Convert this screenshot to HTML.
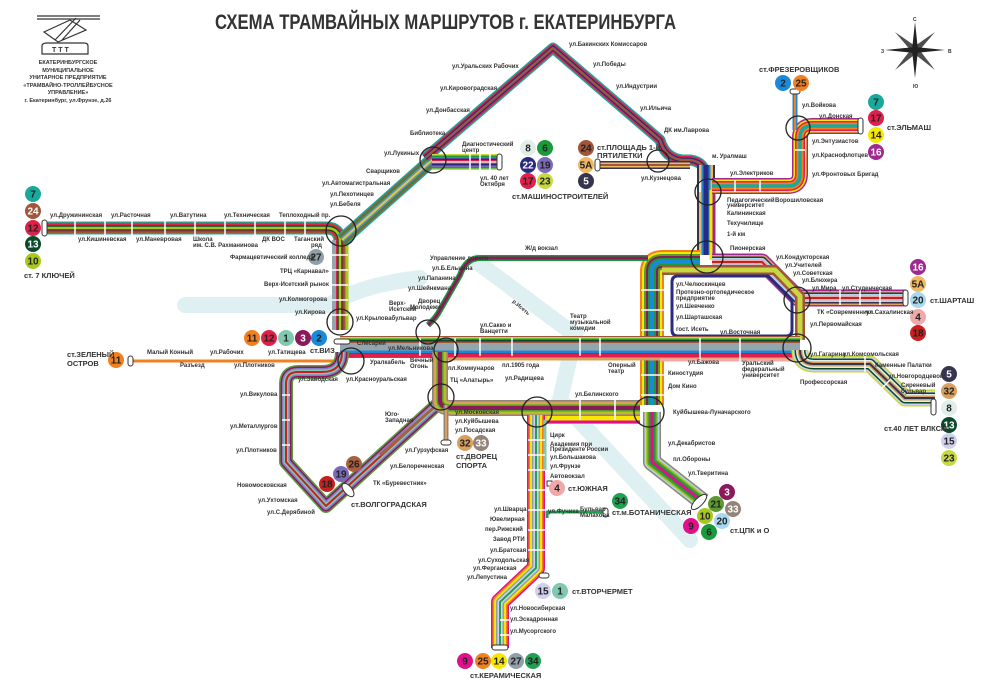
<!DOCTYPE html>
<html><head><meta charset="utf-8">
<style>
html,body{margin:0;padding:0;background:#fff;}
svg{display:block;}
text{font-family:"Liberation Sans",sans-serif;font-weight:bold;fill:#333;}
.s{font-size:6px;}
.t{font-size:7.5px;fill:#222;}
.n{font-size:10px;text-anchor:middle;fill:#222;}
.w{fill:#fff;}
</style></head><body>
<svg width="1000" height="685" viewBox="0 0 1000 685" xmlns="http://www.w3.org/2000/svg">
<defs>
<path id="pW" d="M45,228 H326 Q340,228 340,242 V330"/>
<path id="pNW" d="M342,240 L432,160"/>
<path id="pTop" d="M425,158 L553,48 L660,140 Q665,158 682,160 H690 Q706,162 706,178 V250"/>
<path id="pMash" d="M432,162 H500"/>
<path id="p5A" d="M598,165 H690"/>
<path id="pElm" d="M712,186 H788 Q800,186 800,174 V138 Q800,126 812,126 H862"/>
<path id="pFrez" d="M795,92 V130"/>
<path id="pShar" d="M712,262 H762 L798,298 H906"/>
<path id="pLV" d="M700,262 H662 Q652,262 652,272 V405"/>
<path id="pRect" d="M676,276 H768 L792,300 V330 Q792,336 786,336 H678 Q672,336 672,330 V282 Q672,276 678,276 Z"/>
<path id="pCent" d="M340,347 H800"/>
<path id="pE" d="M800,350 Q800,364 814,364 H870 L905,398 H935"/>
<path id="pSW" d="M342,352 Q342,372 322,372 H298 Q286,372 286,384 V462 L326,506 L440,402"/>
<path id="pOr" d="M132,361 H345"/>
<path id="pAl" d="M440,352 V400 Q440,408 452,408 H640"/>
<path id="pDS" d="M446,405 V442"/>
<path id="pSo" d="M536,415 V568 L500,602 V648"/>
<path id="pSE" d="M652,412 V462 L703,502"/>
<path id="pBot" d="M547,518 V512 H605"/>
<path id="pZh" d="M428,325 Q436,318 440,310 L460,275 Q466,258 480,258 H648"/>
</defs>

<!-- river -->
<g fill="none" stroke="#dff0f3" stroke-linecap="round">
<path d="M185,305 H330 Q360,285 420,278" stroke-width="16"/>
<path d="M477,262 L575,335 L560,400 L690,540" stroke-width="16"/>
</g>

<g fill="none" stroke-linejoin="round">
<use href="#pW" stroke="#1aa89a" stroke-width="13"/>
<use href="#pW" stroke="#a0563a" stroke-width="10.5"/>
<use href="#pW" stroke="#e0204a" stroke-width="8"/>
<use href="#pW" stroke="#0a4a2a" stroke-width="5"/>
<use href="#pW" stroke="#a8c81e" stroke-width="2.5"/>
<path d="M334,240 V330" stroke="#95a5ad" stroke-width="4"/>
<path d="M347,240 V330" stroke="#a8c81e" stroke-width="3"/>
<use href="#pNW" stroke="#1aa89a" stroke-width="14"/>
<use href="#pNW" stroke="#a0563a" stroke-width="11"/>
<use href="#pNW" stroke="#1a9a3a" stroke-width="8"/>
<use href="#pNW" stroke="#8a7ac8" stroke-width="5"/>
<use href="#pNW" stroke="#c8d840" stroke-width="2"/>
<use href="#pTop" stroke="#1aa89a" stroke-width="11"/>
<use href="#pTop" stroke="#e0204a" stroke-width="8"/>
<use href="#pTop" stroke="#2a2a80" stroke-width="5"/>
<use href="#pTop" stroke="#a0563a" stroke-width="2.5"/>
<use href="#pMash" stroke="#c8d840" stroke-width="16"/>
<use href="#pMash" stroke="#1a9a3a" stroke-width="13"/>
<use href="#pMash" stroke="#7a6ab8" stroke-width="10"/>
<use href="#pMash" stroke="#2a2a80" stroke-width="7"/>
<use href="#pMash" stroke="#e0204a" stroke-width="4"/>
<use href="#pMash" stroke="#dfeee8" stroke-width="1.5"/>
<use href="#p5A" stroke="#353550" stroke-width="8"/>
<use href="#p5A" stroke="#f0b860" stroke-width="5"/>
<use href="#p5A" stroke="#a0563a" stroke-width="2"/>
<path d="M706,165 V255" stroke="#353550" stroke-width="18"/>
<path d="M706,165 V255" stroke="#f0b860" stroke-width="14"/>
<path d="M706,165 V255" stroke="#1a8ad8" stroke-width="9"/>
<path d="M706,165 V255" stroke="#2a2a80" stroke-width="5"/>
<path d="M714,190 V260" stroke="#a02890" stroke-width="3"/>
<path d="M711,190 V260" stroke="#f8e800" stroke-width="3"/>
<use href="#pElm" stroke="#a02890" stroke-width="16"/>
<use href="#pElm" stroke="#f8e800" stroke-width="13"/>
<use href="#pElm" stroke="#e0204a" stroke-width="10"/>
<use href="#pElm" stroke="#f08020" stroke-width="7"/>
<use href="#pElm" stroke="#1aa89a" stroke-width="3.5"/>
<use href="#pFrez" stroke="#1a8ad8" stroke-width="5"/>
<use href="#pFrez" stroke="#f08020" stroke-width="2"/>
<use href="#pShar" stroke="#a02890" stroke-width="17"/>
<use href="#pShar" stroke="#d8a060" stroke-width="14"/>
<use href="#pShar" stroke="#353550" stroke-width="11"/>
<use href="#pShar" stroke="#a8d8f0" stroke-width="8"/>
<use href="#pShar" stroke="#f0a8a8" stroke-width="5"/>
<use href="#pShar" stroke="#c82020" stroke-width="2"/>
<use href="#pLV" stroke="#f08020" stroke-width="24"/>
<use href="#pLV" stroke="#f8e800" stroke-width="20"/>
<use href="#pLV" stroke="#5a9a30" stroke-width="16"/>
<use href="#pLV" stroke="#8a1a5a" stroke-width="12"/>
<use href="#pLV" stroke="#1a9a3a" stroke-width="8"/>
<use href="#pLV" stroke="#1a8ad8" stroke-width="4"/>
<path d="M662,270 H775 L800,296 V340" fill="none" stroke="#a0563a" stroke-width="10"/>
<path d="M662,270 H775 L800,296 V340" fill="none" stroke="#c8d840" stroke-width="5"/>
<use href="#pRect" stroke="#2a2a80" stroke-width="3"/>
<use href="#pCent" stroke="#a0563a" stroke-width="22"/>
<use href="#pCent" stroke="#c8d840" stroke-width="20"/>
<use href="#pCent" stroke="#1a9a3a" stroke-width="17"/>
<use href="#pCent" stroke="#0a4a2a" stroke-width="14"/>
<use href="#pCent" stroke="#a0563a" stroke-width="11"/>
<use href="#pCent" stroke="#95a5ad" stroke-width="8"/>
<path d="M340,352 H800" stroke="#1a8ad8" stroke-width="3"/>
<path d="M340,355.5 H800" stroke="#e0204a" stroke-width="3"/>
<path d="M445,359 H800" stroke="#d8a060" stroke-width="3"/>
<path d="M660,360 H800" stroke="#f0a8a8" stroke-width="3"/>
<use href="#pE" stroke="#c8d840" stroke-width="17"/>
<use href="#pE" stroke="#d0d0ee" stroke-width="14"/>
<use href="#pE" stroke="#0a4a2a" stroke-width="11"/>
<use href="#pE" stroke="#dfeee8" stroke-width="8"/>
<use href="#pE" stroke="#d8a060" stroke-width="5"/>
<use href="#pE" stroke="#353550" stroke-width="2"/>
<use href="#pOr" stroke="#f08020" stroke-width="3"/>
<use href="#pSW" stroke="#5aa040" stroke-width="14"/>
<use href="#pSW" stroke="#8a1a5a" stroke-width="11"/>
<use href="#pSW" stroke="#8a7ac8" stroke-width="8"/>
<use href="#pSW" stroke="#80c8b0" stroke-width="5"/>
<use href="#pSW" stroke="#c82020" stroke-width="2"/>
<path d="M380,455 L440,402" stroke="#a86040" stroke-width="3"/>
<use href="#pAl" stroke="#948478" stroke-width="16"/>
<use href="#pAl" stroke="#d8a060" stroke-width="13"/>
<use href="#pAl" stroke="#a8c81e" stroke-width="10"/>
<use href="#pAl" stroke="#5a9a30" stroke-width="7"/>
<use href="#pAl" stroke="#8a1a5a" stroke-width="4"/>
<path d="M540,420 H640" stroke="#f8e800" stroke-width="8"/>
<path d="M540,422 H640" stroke="#e0108a" stroke-width="3"/>
<use href="#pDS" stroke="#948478" stroke-width="5"/>
<use href="#pDS" stroke="#d8a060" stroke-width="2"/>
<use href="#pSo" stroke="#e0108a" stroke-width="18"/>
<use href="#pSo" stroke="#f08020" stroke-width="15"/>
<use href="#pSo" stroke="#f8e800" stroke-width="12"/>
<use href="#pSo" stroke="#90a0a8" stroke-width="8"/>
<use href="#pSo" stroke="#d0d0ee" stroke-width="5"/>
<use href="#pSo" stroke="#20a050" stroke-width="2"/>
<path d="M545,420 V470" stroke="#80c8b0" stroke-width="3"/>
<use href="#pBot" stroke="#20a050" stroke-width="3"/>
<use href="#pSE" stroke="#948478" stroke-width="18"/>
<use href="#pSE" stroke="#a8d8f0" stroke-width="15"/>
<use href="#pSE" stroke="#a8c81e" stroke-width="12"/>
<use href="#pSE" stroke="#5a9a30" stroke-width="9"/>
<use href="#pSE" stroke="#1a9a3a" stroke-width="6"/>
<use href="#pSE" stroke="#e0108a" stroke-width="3"/>
<use href="#pZh" stroke="#1a9a3a" stroke-width="6"/>
<use href="#pZh" stroke="#8a1a5a" stroke-width="3"/>
</g>

<g stroke="#fff" stroke-width="1.5">
<path d="M75,220V236M105,220V236M132,220V236M165,220V236M195,220V236M225,220V236M255,220V236M285,220V236M305,220V236"/>
<path d="M332,255H348M332,270H348M332,285H348M332,300H348M332,315H348"/>
<path d="M480,152V172M490,152V172M470,152V172"/>
<path d="M420,338V356M455,338V356M480,338V356M512,338V356M580,338V356M600,338V356M700,338V364M740,338V364"/>
<path d="M282,395H290M282,420H290M282,445H290"/>
<path d="M528,440H545M528,455H545M528,470H545M528,490H545M528,510H545M528,530H545M528,550H545"/>
<path d="M500,620H510M500,635H510"/>
<path d="M700,180V192M735,180V192M760,180V192M795,150H805"/>
<path d="M840,290V305M860,290V305M880,290V305"/>
<path d="M865,356V372M890,380L880,390"/>
<path d="M641,290H664M641,310H664M641,330H664M641,375H664M641,395H664"/>
<path d="M580,400V420M615,400V420"/>
</g>

<g fill="#fff" stroke="#333" stroke-width="1">
<rect x="42" y="220" width="5" height="16" rx="2.5"/>
<rect x="497" y="154" width="5" height="16" rx="2.5"/>
<rect x="595" y="159" width="5" height="12" rx="2.5"/>
<rect x="790" y="89" width="10" height="5" rx="2.5"/>
<rect x="858" y="118" width="5" height="16" rx="2.5"/>
<rect x="903" y="290" width="5" height="16" rx="2.5"/>
<rect x="931" y="399" width="5" height="16" rx="2.5"/>
<rect x="128" y="356" width="5" height="10" rx="2.5"/>
<rect x="334" y="339" width="16" height="5" rx="2.5"/>
<ellipse cx="348" cy="490" rx="4" ry="8" transform="rotate(-40 348 490)"/>
<rect x="441" y="440" width="10" height="5" rx="2.5"/>
<rect x="547" y="481" width="5" height="5"/>
<rect x="603" y="508" width="5" height="9" rx="2.5"/>
<rect x="539" y="573" width="10" height="5" rx="2.5"/>
<rect x="492" y="645" width="16" height="5" rx="2.5"/>
<ellipse cx="699" cy="502" rx="4" ry="10" transform="rotate(45 699 502)"/>
</g>

<g fill="none" stroke="#222" stroke-width="1.3">
<circle cx="433" cy="160" r="13"/><circle cx="658" cy="161" r="11"/>
<circle cx="708" cy="192" r="13"/><circle cx="707" cy="257" r="16"/>
<circle cx="798" cy="128" r="12"/><circle cx="797" cy="300" r="13"/>
<circle cx="797" cy="348" r="14"/><circle cx="341" cy="231" r="15"/>
<circle cx="340" cy="322" r="13"/><circle cx="351" cy="361" r="13"/>
<circle cx="428" cy="332" r="12"/><circle cx="446" cy="350" r="12"/>
<circle cx="441" cy="397" r="13"/><circle cx="537" cy="412" r="15"/>
<circle cx="649" cy="412" r="15"/>
</g>

<g>
<circle cx="33" cy="194" r="8" fill="#1aa89a"/><text class="n" x="33" y="197.5">7</text>
<circle cx="33" cy="211" r="8" fill="#a0563a"/><text class="n w" x="33" y="214.5">24</text>
<circle cx="33" cy="228" r="8" fill="#e0204a"/><text class="n" x="33" y="231.5">12</text>
<circle cx="33" cy="244" r="8" fill="#0a4a2a"/><text class="n w" x="33" y="247.5">13</text>
<circle cx="33" cy="261" r="8" fill="#a8c81e"/><text class="n" x="33" y="264.5">10</text>
<circle cx="316" cy="257" r="8" fill="#90a0a8"/><text class="n" x="316" y="260.5">27</text>
<circle cx="528" cy="148" r="8" fill="#dfeee8"/><text class="n" x="528" y="151.5">8</text>
<circle cx="545" cy="148" r="8" fill="#1a9a3a"/><text class="n" x="545" y="151.5">6</text>
<circle cx="528" cy="165" r="8" fill="#2a2a80"/><text class="n w" x="528" y="168.5">22</text>
<circle cx="545" cy="165" r="8" fill="#7a6ab8"/><text class="n" x="545" y="168.5">19</text>
<circle cx="528" cy="181" r="8" fill="#e0204a"/><text class="n" x="528" y="184.5">17</text>
<circle cx="545" cy="181" r="8" fill="#c8d840"/><text class="n" x="545" y="184.5">23</text>
<circle cx="586" cy="148" r="8" fill="#a0563a"/><text class="n" x="586" y="151.5">24</text>
<circle cx="586" cy="165" r="8" fill="#f0b860"/><text class="n" x="586" y="168.5">5A</text>
<circle cx="586" cy="181" r="8" fill="#353550"/><text class="n w" x="586" y="184.5">5</text>
<circle cx="783" cy="83" r="8" fill="#1a8ad8"/><text class="n" x="783" y="86.5">2</text>
<circle cx="801" cy="83" r="8" fill="#f08020"/><text class="n" x="801" y="86.5">25</text>
<circle cx="876" cy="102" r="8" fill="#1aa89a"/><text class="n" x="876" y="105.5">7</text>
<circle cx="876" cy="118" r="8" fill="#e0204a"/><text class="n" x="876" y="121.5">17</text>
<circle cx="876" cy="135" r="8" fill="#f8e800"/><text class="n" x="876" y="138.5">14</text>
<circle cx="876" cy="152" r="8" fill="#a02890"/><text class="n w" x="876" y="155.5">16</text>
<circle cx="918" cy="267" r="8" fill="#a02890"/><text class="n w" x="918" y="270.5">16</text>
<circle cx="918" cy="284" r="8" fill="#f0b860"/><text class="n" x="918" y="287.5">5A</text>
<circle cx="918" cy="300" r="8" fill="#a8d8f0"/><text class="n" x="918" y="303.5">20</text>
<circle cx="918" cy="317" r="8" fill="#f0a8a8"/><text class="n" x="918" y="320.5">4</text>
<circle cx="918" cy="333" r="8" fill="#c82020"/><text class="n" x="918" y="336.5">18</text>
<circle cx="949" cy="374" r="8" fill="#353550"/><text class="n w" x="949" y="377.5">5</text>
<circle cx="949" cy="391" r="8" fill="#d8a060"/><text class="n" x="949" y="394.5">32</text>
<circle cx="949" cy="408" r="8" fill="#dfeee8"/><text class="n" x="949" y="411.5">8</text>
<circle cx="949" cy="425" r="8" fill="#0a4a2a"/><text class="n w" x="949" y="428.5">13</text>
<circle cx="949" cy="441" r="8" fill="#d0d0ee"/><text class="n" x="949" y="444.5">15</text>
<circle cx="949" cy="458" r="8" fill="#c8d840"/><text class="n" x="949" y="461.5">23</text>
<circle cx="252" cy="338" r="8" fill="#f08020"/><text class="n" x="252" y="341.5">11</text>
<circle cx="269" cy="338" r="8" fill="#e0204a"/><text class="n" x="269" y="341.5">12</text>
<circle cx="286" cy="338" r="8" fill="#80c8b0"/><text class="n" x="286" y="341.5">1</text>
<circle cx="303" cy="338" r="8" fill="#8a1a5a"/><text class="n w" x="303" y="341.5">3</text>
<circle cx="319" cy="338" r="8" fill="#1a8ad8"/><text class="n" x="319" y="341.5">2</text>
<circle cx="116" cy="360" r="8" fill="#f08020"/><text class="n" x="116" y="363.5">11</text>
<circle cx="327" cy="484" r="8" fill="#c82020"/><text class="n" x="327" y="487.5">18</text>
<circle cx="341" cy="474" r="8" fill="#7a6ab8"/><text class="n" x="341" y="477.5">19</text>
<circle cx="354" cy="464" r="8" fill="#a86040"/><text class="n" x="354" y="467.5">26</text>
<circle cx="465" cy="443" r="8" fill="#d8a060"/><text class="n" x="465" y="446.5">32</text>
<circle cx="481" cy="443" r="8" fill="#948478"/><text class="n w" x="481" y="446.5">33</text>
<circle cx="557" cy="488" r="8" fill="#f0a8a8"/><text class="n" x="557" y="491.5">4</text>
<circle cx="620" cy="501" r="8" fill="#20a050"/><text class="n" x="620" y="504.5">34</text>
<circle cx="727" cy="492" r="8" fill="#8a1a5a"/><text class="n w" x="727" y="495.5">3</text>
<circle cx="716" cy="504" r="8" fill="#5a9a30"/><text class="n" x="716" y="507.5">21</text>
<circle cx="733" cy="509" r="8" fill="#948478"/><text class="n w" x="733" y="512.5">33</text>
<circle cx="705" cy="516" r="8" fill="#a8c81e"/><text class="n" x="705" y="519.5">10</text>
<circle cx="722" cy="521" r="8" fill="#a8d8f0"/><text class="n" x="722" y="524.5">20</text>
<circle cx="691" cy="526" r="8" fill="#e0108a"/><text class="n" x="691" y="529.5">9</text>
<circle cx="709" cy="532" r="8" fill="#1a9a3a"/><text class="n" x="709" y="535.5">6</text>
<circle cx="543" cy="591" r="8" fill="#d0d0ee"/><text class="n" x="543" y="594.5">15</text>
<circle cx="560" cy="591" r="8" fill="#80c8b0"/><text class="n" x="560" y="594.5">1</text>
<circle cx="465" cy="661" r="8" fill="#e0108a"/><text class="n" x="465" y="664.5">9</text>
<circle cx="483" cy="661" r="8" fill="#f08020"/><text class="n" x="483" y="664.5">25</text>
<circle cx="499" cy="661" r="8" fill="#f8e800"/><text class="n" x="499" y="664.5">14</text>
<circle cx="516" cy="661" r="8" fill="#90a0a8"/><text class="n" x="516" y="664.5">27</text>
<circle cx="533" cy="661" r="8" fill="#20a050"/><text class="n" x="533" y="664.5">34</text>
</g>

<text x="215" y="29" font-size="21" fill="#222" textLength="461" lengthAdjust="spacingAndGlyphs">СХЕМА ТРАМВАЙНЫХ МАРШРУТОВ г. ЕКАТЕРИНБУРГА</text>

<g fill="none" stroke="#333" stroke-width="1.2">
<path d="M37,16 H100 M37,19 H100"/>
<path d="M44,32 L70,20 L86,30 L58,42 Z M55,40 L76,18 M62,40 L80,20"/>
<path d="M42,54 V46 Q42,43 47,43 H84 Q88,43 88,46 V54 Z"/>
</g>
<text x="52" y="52" font-size="7">Т Т Т</text>
<g font-size="5.5" text-anchor="middle">
<text x="68" y="64">ЕКАТЕРИНБУРГСКОЕ</text>
<text x="68" y="72">МУНИЦИПАЛЬНОЕ</text>
<text x="68" y="79">УНИТАРНОЕ ПРЕДПРИЯТИЕ</text>
<text x="68" y="87">«ТРАМВАЙНО-ТРОЛЛЕЙБУСНОЕ</text>
<text x="68" y="94">УПРАВЛЕНИЕ»</text>
<text x="68" y="102">г. Екатеринбург, ул.Фрунзе, д.26</text>
</g>

<g fill="#222">
<path d="M915,22 L918,50 L915,78 L912,50 Z"/>
<path d="M885,50 L915,47 L945,50 L915,53 Z"/>
<path d="M895,32 L918,48 L935,70 L912,52 Z" opacity="0.8"/>
<path d="M935,32 L918,52 L895,70 L912,48 Z" opacity="0.8"/>
</g>
<text x="913" y="21" font-size="5">С</text><text x="881" y="53" font-size="5">З</text>
<text x="948" y="53" font-size="5">В</text><text x="913" y="88" font-size="5">Ю</text>

<g class="t">
<text x="24" y="278">ст. 7 КЛЮЧЕЙ</text>
<text x="512" y="199">ст.МАШИНОСТРОИТЕЛЕЙ</text>
<text x="597" y="150">ст.ПЛОЩАДЬ 1-й</text>
<text x="597" y="158">ПЯТИЛЕТКИ</text>
<text x="759" y="72">ст.ФРЕЗЕРОВЩИКОВ</text>
<text x="887" y="130">ст.ЭЛЬМАШ</text>
<text x="930" y="303">ст.ШАРТАШ</text>
<text x="884" y="431">ст.40 ЛЕТ ВЛКСМ</text>
<text x="310" y="353">ст.ВИЗ</text>
<text x="67" y="357">ст.ЗЕЛЕНЫЙ</text>
<text x="67" y="366">ОСТРОВ</text>
<text x="351" y="507">ст.ВОЛГОГРАДСКАЯ</text>
<text x="456" y="459">ст.ДВОРЕЦ</text>
<text x="456" y="468">СПОРТА</text>
<text x="568" y="491">ст.ЮЖНАЯ</text>
<text x="612" y="515">ст.м.БОТАНИЧЕСКАЯ</text>
<text x="730" y="533">ст.ЦПК и О</text>
<text x="572" y="594">ст.ВТОРЧЕРМЕТ</text>
<text x="470" y="678">ст.КЕРАМИЧЕСКАЯ</text>
</g>

<g class="s">
<text x="50" y="217">ул.Дружининская</text><text x="111" y="217">ул.Расточная</text>
<text x="170" y="217">ул.Ватутина</text><text x="224" y="217">ул.Техническая</text>
<text x="279" y="217">Теплоходный пр.</text>
<text x="78" y="241">ул.Кишиневская</text><text x="136" y="241">ул.Маневровая</text>
<text x="193" y="241">Школа</text><text x="193" y="247">им. С.В. Рахманинова</text>
<text x="262" y="241">ДК ВОС</text><text x="294" y="241">Таганский</text><text x="311" y="247">ряд</text>
<text x="230" y="259">Фармацевтический колледж</text>
<text x="280" y="273">ТРЦ «Карнавал»</text>
<text x="264" y="286">Верх-Исетский рынок</text>
<text x="279" y="301">ул.Колмогорова</text>
<text x="295" y="314">ул.Кирова</text>
<text x="322" y="185">ул.Автомагистральная</text><text x="330" y="196">ул.Пехотинцев</text>
<text x="330" y="206">ул.Бебеля</text><text x="366" y="173">Сварщиков</text>
<text x="384" y="155">ул.Лукиных</text><text x="410" y="135">Библиотека</text>
<text x="426" y="112">ул.Донбасская</text><text x="440" y="90">ул.Кировоградская</text>
<text x="452" y="68">ул.Уральских Рабочих</text><text x="569" y="46">ул.Бакинских Комиссаров</text>
<text x="593" y="66">ул.Победы</text><text x="616" y="88">ул.Индустрии</text>
<text x="640" y="110">ул.Ильича</text><text x="664" y="132">ДК им.Лаврова</text>
<text x="462" y="146">Диагностический</text><text x="462" y="152">центр</text>
<text x="480" y="180">ул. 40 лет</text><text x="480" y="186">Октября</text>
<text x="641" y="180">ул.Кузнецова</text><text x="712" y="158">м. Уралмаш</text>
<text x="730" y="175">ул.Электриков</text><text x="727" y="202">Педагогический</text>
<text x="727" y="207">университет</text><text x="775" y="202">Ворошиловская</text>
<text x="727" y="215">Калининская</text><text x="727" y="225">Техучилище</text>
<text x="727" y="236">1-й км</text><text x="730" y="250">Пионерская</text>
<text x="802" y="107">ул.Войкова</text><text x="819" y="118">ул.Донская</text>
<text x="812" y="143">ул.Энтузиастов</text><text x="812" y="157">ул.Краснофлотцев</text>
<text x="812" y="176">ул.Фронтовых Бригад</text>
<text x="776" y="259">ул.Кондукторская</text><text x="785" y="267">ул.Учителей</text>
<text x="793" y="275">ул.Советская</text><text x="802" y="282">ул.Блюхера</text>
<text x="812" y="290">ул.Мира</text><text x="842" y="290">ул.Студенческая</text>
<text x="817" y="314">ТК «Современник»</text><text x="866" y="314">ул.Сахалинская</text>
<text x="810" y="326">ул.Первомайская</text>
<text x="676" y="286">ул.Челюскинцев</text><text x="676" y="294">Протезно-ортопедическое</text>
<text x="676" y="300">предприятие</text><text x="676" y="308">ул.Шевченко</text>
<text x="676" y="319">ул.Шарташская</text><text x="676" y="331">гост. Исеть</text>
<text x="720" y="334">ул.Восточная</text><text x="688" y="364">ул.Бажова</text>
<text x="742" y="365">Уральский</text><text x="742" y="371">федеральный</text><text x="742" y="377">университет</text>
<text x="810" y="356">ул.Гагарина</text><text x="843" y="356">ул.Комсомольская</text>
<text x="875" y="367">Каменные Палатки</text><text x="888" y="378">ул.Новгородцевой</text>
<text x="901" y="387">Сиреневый</text><text x="901" y="393">бульвар</text>
<text x="800" y="384">Профессорская</text>
<text x="668" y="375">Киностудия</text><text x="668" y="388">Дом Кино</text>
<text x="673" y="414">Куйбышева-Луначарского</text>
<text x="668" y="445">ул.Декабристов</text><text x="673" y="461">пл.Обороны</text>
<text x="688" y="475">ул.Тверитина</text>
<text x="575" y="396">ул.Белинского</text><text x="505" y="380">ул.Радищева</text>
<text x="570" y="318">Театр</text><text x="570" y="324">музыкальной</text><text x="570" y="330">комедии</text>
<text x="608" y="367">Оперный</text><text x="608" y="373">театр</text>
<text x="480" y="327">ул.Сакко и</text><text x="480" y="333">Ванцетти</text>
<text x="502" y="367">пл.1905 года</text><text x="448" y="370">пл.Коммунаров</text>
<text x="450" y="382">ТЦ «Алатырь»</text>
<text x="455" y="414">ул.Московская</text><text x="455" y="423">ул.Куйбышева</text>
<text x="455" y="432">ул.Посадская</text>
<text x="385" y="416">Юго-</text><text x="385" y="422">Западная</text>
<text x="405" y="452">ул.Гурзуфская</text><text x="390" y="468">ул.Белореченская</text>
<text x="373" y="485">ТК «Буревестник»</text>
<text x="240" y="396">ул.Викулова</text><text x="230" y="428">ул.Металлургов</text>
<text x="236" y="452">ул.Плотников</text><text x="237" y="487">Новомосковская</text>
<text x="258" y="502">ул.Ухтомская</text><text x="267" y="514">ул.С.Дерябиной</text>
<text x="147" y="354">Малый Конный</text><text x="180" y="367">Разъезд</text>
<text x="210" y="354">ул.Рабочих</text><text x="234" y="367">ул.Плотников</text>
<text x="268" y="354">ул.Татищева</text><text x="298" y="381">ул.Заводская</text>
<text x="346" y="381">ул.Красноуральская</text>
<text x="357" y="345">Слесарей</text><text x="370" y="364">Уралкабель</text>
<text x="388" y="350">ул.Мельникова</text><text x="410" y="362">Вечный</text><text x="410" y="368">Огонь</text>
<text x="356" y="320">ул.Крыловабульвар</text>
<text x="389" y="305">Верх-</text><text x="389" y="311">Исетский</text>
<text x="418" y="303">Дворец</text><text x="410" y="309">Молодежи</text>
<text x="408" y="290">ул.Шейнкмана</text><text x="418" y="280">ул.Папанина</text>
<text x="432" y="270">ул.Б.Ельцина</text><text x="430" y="260">Управление дороги</text>
<text x="525" y="250">Ж/д вокзал</text>
<text x="550" y="437">Цирк</text><text x="550" y="446">Академия при</text>
<text x="550" y="451">Президенте России</text><text x="550" y="459">ул.Большакова</text>
<text x="550" y="468">ул.Фрунзе</text><text x="550" y="478">Автовокзал</text>
<text x="548" y="513">ул.Фучика</text><text x="580" y="511">Бульвар</text><text x="580" y="517">Малахова</text>
<text x="494" y="511">ул.Шварца</text><text x="490" y="521">Ювелирная</text>
<text x="485" y="531">пер.Рижский</text><text x="493" y="541">Завод РТИ</text>
<text x="490" y="552">ул.Братская</text><text x="478" y="562">ул.Суходольская</text>
<text x="473" y="570">ул.Ферганская</text><text x="467" y="579">ул.Лепустина</text>
<text x="510" y="610">ул.Новосибирская</text><text x="510" y="621">ул.Эскадронная</text>
<text x="510" y="633">ул.Мусоргского</text>
<text x="512" y="302" font-size="5.5" fill="#345" transform="rotate(40 512 302)">р.Исеть</text>
</g>
</svg>
</body></html>
